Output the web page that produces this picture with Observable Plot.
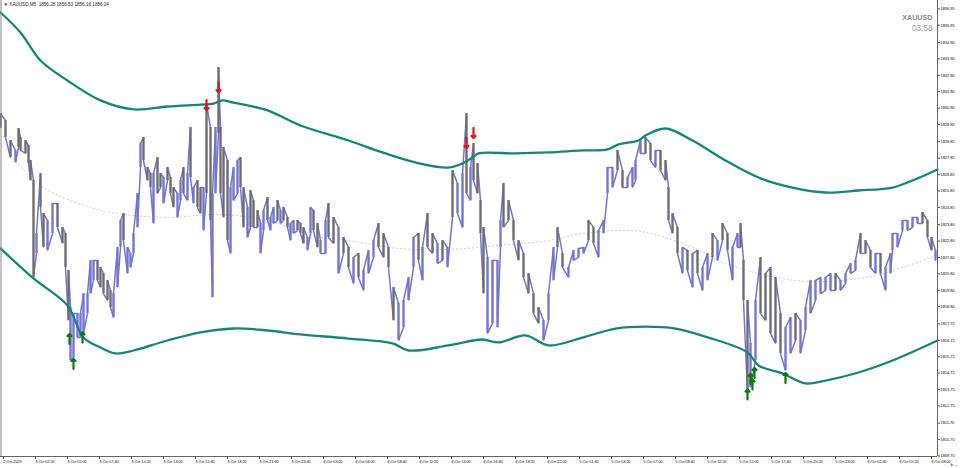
<!DOCTYPE html>
<html><head><meta charset="utf-8">
<script src="https://cdn.jsdelivr.net/npm/d3@7"></script>
<script src="https://cdn.jsdelivr.net/npm/@observablehq/plot@0.6"></script>
<style>
html,body{margin:0;padding:0;background:#fff;}
#chart{width:960px;height:468px;overflow:hidden;}
</style></head>
<body><div id="chart"></div>
<script>
// ---- header texts ----
const headerText = "\u25BC XAUUSD,M5  1856.28 1856.53 1856.16 1856.24";
const symbolText = "XAUUSD";
const timerText = "03:58";

// ---- axis domain & ticks ----
const xMin = -3, xMax = 934;
const yMin = 1809.67, yMax = 1837.46;
const yTicks = [1836.95,1835.95,1834.90,1833.90,1832.90,1831.90,1830.90,1829.90,1828.85,1827.85,1826.85,1825.85,1824.85,1823.80,1822.80,1821.80,1820.80,1819.80,1818.80,1817.75,1816.75,1815.75,1814.75,1813.75,1812.75,1811.70,1810.70,1809.70];
const xTickBars = [0,32,64,96,128,160,192,224,256,288,320,352,384,416,448,480,512,544,576,608,640,672,704,736,768,800,832,864,896,928];
const xTickLabels = ["2 Oct 2023","3 Oct 02:20","3 Oct 05:00","3 Oct 07:40","3 Oct 10:20","3 Oct 13:00","3 Oct 15:40","3 Oct 18:20","3 Oct 21:00","3 Oct 23:40","4 Oct 03:20","4 Oct 06:00","4 Oct 08:40","4 Oct 11:20","4 Oct 14:00","4 Oct 16:40","4 Oct 19:20","4 Oct 22:00","5 Oct 01:40","5 Oct 04:20","5 Oct 07:00","5 Oct 09:40","5 Oct 12:20","5 Oct 15:00","5 Oct 17:40","5 Oct 20:20","5 Oct 23:00","6 Oct 02:40","6 Oct 05:20","6 Oct 08:00"];

// ---- price bars (bar index, high, low) ----
const barIndex = [
 -3,2,7,12,15,17,22,25,27,30,
 33,37,40,44,49,54,59,62,65,67,
 70,74,77,80,84,87,90,94,97,100,
 104,107,110,114,117,120,124,127,130,134,
 137,140,144,147,150,154,157,160,164,167,
 170,174,177,180,184,187,190,194,197,200,
 203,207,209,212,215,217,220,224,227,230,
 234,237,240,244,247,250,254,257,260,264,
 267,270,274,277,280,284,287,290,294,297,
 300,304,307,310,314,317,322,325,330,335,
 340,345,350,355,360,365,370,375,380,385,
 390,395,400,405,410,415,419,424,429,434,
 439,444,449,454,459,463,467,470,474,477,
 480,484,489,494,497,500,505,510,515,520,
 525,530,535,540,545,550,554,559,565,570,
 575,580,585,590,595,600,604,609,614,619,
 624,629,632,637,642,647,652,657,662,665,
 669,674,679,684,689,694,699,704,709,714,
 719,724,729,734,737,740,744,747,752,757,
 762,767,772,777,782,787,792,797,802,807,
 812,817,822,827,832,837,842,847,852,857,
 862,867,872,877,882,887,889,894,899,904,
 909,914,919,924,928,932];
const barHigh = [
 1830.57,1830.15,1828.93,1828.32,1829.66,1829.11,1828.93,1828.62,1827.71,1826.49,
 1823.26,1826.92,1824.48,1824.05,1825.09,1825.09,1823.63,1823.26,1821.01,1818.75,
 1818.39,1818.39,1818.39,1819.60,1819.60,1821.62,1821.62,1821.62,1821.19,1820.82,
 1820.40,1819.79,1819.60,1822.41,1824.05,1824.48,1822.41,1822.04,1823.26,1825.70,
 1828.75,1829.11,1827.28,1826.92,1826.92,1827.89,1826.92,1826.67,1827.28,1826.67,
 1826.06,1825.70,1826.49,1827.28,1826.92,1829.72,1826.06,1826.49,1826.06,1826.06,
 1831.18,1829.72,1825.70,1829.72,1833.38,1829.72,1828.50,1827.71,1826.06,1827.28,
 1827.71,1827.89,1826.06,1824.85,1825.88,1825.27,1824.66,1823.87,1824.66,1825.46,
 1824.24,1824.85,1825.27,1824.66,1824.85,1824.24,1823.87,1824.05,1824.05,1823.87,
 1823.63,1823.02,1824.85,1824.66,1823.87,1822.83,1824.05,1825.09,1824.24,1823.63,
 1823.02,1822.41,1821.80,1822.04,1821.01,1822.23,1822.83,1823.87,1823.26,1822.41,
 1819.97,1819.00,1819.18,1820.58,1823.02,1823.26,1822.41,1824.48,1823.26,1822.65,
 1822.83,1822.41,1827.10,1826.31,1826.92,1830.57,1827.28,1828.75,1827.53,1825.27,
 1823.63,1821.80,1821.62,1821.62,1824.05,1826.31,1825.27,1824.05,1822.83,1822.04,
 1820.82,1819.60,1818.75,1817.96,1819.60,1822.41,1823.63,1822.04,1821.19,1822.23,
 1822.35,1822.41,1824.05,1823.63,1823.44,1824.05,1827.28,1827.28,1828.32,1827.10,
 1826.67,1827.28,1827.71,1828.93,1829.11,1828.75,1828.32,1828.32,1827.71,1826.06,
 1824.48,1823.63,1822.41,1822.23,1822.04,1822.23,1821.19,1822.04,1823.26,1822.83,
 1823.87,1823.26,1822.41,1823.26,1823.87,1821.62,1819.18,1816.56,1819.18,1821.80,
 1820.82,1821.19,1820.58,1818.39,1817.53,1818.14,1818.39,1817.96,1818.75,1820.40,
 1820.40,1820.58,1820.58,1820.82,1820.82,1820.40,1820.82,1821.43,1821.62,1823.26,
 1822.83,1822.23,1822.04,1822.04,1821.19,1822.04,1823.26,1823.26,1824.05,1824.05,
 1824.24,1824.24,1824.54,1824.05,1823.02,1822.23];
const barLow = [
 1829.72,1829.11,1827.89,1827.59,1828.50,1828.32,1828.14,1827.53,1826.49,1820.58,
 1822.04,1824.85,1822.41,1822.23,1823.26,1823.63,1822.65,1821.19,1817.96,1815.52,
 1815.70,1816.92,1816.92,1817.17,1818.39,1819.60,1820.40,1820.40,1819.97,1819.60,
 1819.18,1818.75,1818.14,1819.97,1822.41,1822.83,1820.82,1821.19,1822.04,1823.63,
 1827.28,1827.71,1826.49,1826.06,1823.87,1825.70,1826.06,1825.09,1826.49,1825.70,
 1824.85,1824.24,1825.27,1825.70,1825.27,1826.67,1825.09,1824.85,1824.48,1823.44,
 1825.70,1824.05,1819.36,1825.70,1829.36,1825.70,1824.24,1822.83,1822.04,1825.27,
 1825.70,1826.06,1823.63,1823.02,1823.63,1823.63,1823.63,1822.04,1823.44,1824.05,
 1823.44,1823.87,1824.05,1823.87,1824.05,1823.63,1822.83,1823.26,1823.44,1823.26,
 1822.65,1822.23,1823.26,1823.44,1822.41,1822.04,1822.04,1823.02,1822.65,1820.82,
 1822.04,1821.19,1820.21,1820.58,1819.79,1820.82,1821.80,1822.41,1821.80,1821.19,
 1817.96,1816.74,1817.53,1819.18,1821.19,1821.62,1820.40,1822.41,1822.04,1821.43,
 1821.62,1821.19,1824.24,1824.48,1823.63,1825.70,1825.27,1826.49,1825.70,1823.26,
 1819.60,1817.17,1817.78,1817.53,1822.41,1823.63,1824.05,1822.83,1821.62,1820.58,
 1819.60,1818.39,1817.78,1816.74,1817.96,1820.40,1822.41,1821.19,1820.58,1821.62,
 1821.80,1822.04,1822.83,1822.65,1821.80,1823.26,1825.70,1826.06,1827.10,1826.06,
 1826.06,1826.06,1826.49,1828.14,1828.14,1827.71,1827.28,1827.10,1826.49,1824.05,
 1823.26,1822.04,1820.82,1821.01,1819.97,1820.82,1819.79,1820.40,1821.80,1821.62,
 1822.83,1822.23,1820.40,1822.41,1822.41,1819.18,1813.51,1813.88,1815.52,1818.39,
 1817.96,1817.17,1816.56,1815.95,1814.91,1815.95,1816.74,1815.95,1817.35,1818.39,
 1819.18,1819.60,1819.79,1819.79,1819.79,1819.79,1820.21,1820.82,1821.01,1822.04,
 1822.04,1821.19,1820.82,1820.82,1819.79,1820.82,1822.23,1822.41,1823.44,1823.44,
 1823.63,1823.87,1823.87,1823.02,1822.23,1821.62];

// ---- envelope bands ----
const upperBar = [-3,17,37,64,97,130,164,197,210,219,230,264,297,345,379,412,445,459,469,475,512,545,579,604,615,635,642,662,689,722,755,789,822,855,889,909,934];
const upperVal = [1836.73,1835.51,1833.80,1832.58,1831.37,1830.82,1831.00,1831.12,1831.18,1831.37,1831.24,1830.76,1829.84,1828.93,1828.20,1827.59,1827.28,1827.53,1827.89,1828.14,1828.14,1828.20,1828.32,1828.38,1828.69,1828.93,1829.23,1829.66,1828.93,1827.71,1826.67,1826.06,1825.76,1825.88,1826.06,1826.49,1827.16];
const lowerBar = [-3,30,64,80,97,112,130,164,197,230,264,297,345,389,405,445,479,495,522,545,579,612,642,672,705,744,755,779,802,822,855,889,934];
const lowerVal = [1822.35,1820.52,1818.87,1816.92,1816.31,1815.95,1816.13,1816.74,1817.23,1817.47,1817.35,1817.11,1816.86,1816.56,1816.13,1816.44,1816.80,1816.62,1817.05,1816.44,1816.92,1817.47,1817.59,1817.47,1816.92,1816.01,1815.22,1814.73,1814.12,1814.30,1814.79,1815.52,1816.74];
const midBar = [-3,37,80,114,164,214,264,312,345,395,445,495,545,579,629,655,689,722,772,805,839,872,905,934];
const midVal = [1828.75,1826.19,1824.97,1824.48,1824.24,1824.42,1824.05,1823.08,1822.83,1822.35,1822.29,1822.53,1822.83,1823.26,1823.44,1823.14,1822.41,1821.43,1820.58,1820.34,1820.40,1820.70,1821.31,1821.92];

// ---- signal arrows ----
const sellBar = [203,215,463,470];
const sellVal = [1831.09,1832.18,1828.78,1829.39];
const buyBar = [66,79,70,751,747,749,744,782];
const buyVal = [1816.83,1816.92,1815.31,1814.76,1814.40,1814.06,1813.45,1814.45];

// ---- build tables ----
const bars = barIndex.map((b, i) => ({b, hi: barHigh[i], lo: barLow[i]}));
bars.forEach((d, i) => {
  const m = (d.hi + d.lo) / 2;
  const n = i < bars.length - 1 ? (bars[i + 1].hi + bars[i + 1].lo) / 2 : m;
  d.up = n >= m - 0.15;
});
const zig = [];
bars.forEach((d, i) => {
  if (i % 2 === 0) { zig.push({b: d.b, v: d.lo}); zig.push({b: d.b, v: d.hi}); }
  else { zig.push({b: d.b, v: d.hi}); zig.push({b: d.b, v: d.lo}); }
});
const upper = upperBar.map((b, i) => ({b, v: upperVal[i]}));
const lower = lowerBar.map((b, i) => ({b, v: lowerVal[i]}));
const mid = midBar.map((b, i) => ({b, v: midVal[i]}));
const sells = sellBar.map((b, i) => ({b, v: sellVal[i]}));
const buys = buyBar.map((b, i) => ({b, v: buyVal[i]}));
const labelMap = new Map(xTickBars.map((b, i) => [b, xTickLabels[i]]));

const upColor = "#7474d8", downColor = "#6c6c6c", bandColor = "#14877c";

const chart = Plot.plot({
  width: 960, height: 468,
  marginLeft: 0, marginRight: 23, marginTop: 0, marginBottom: 12,
  style: {fontFamily: "'Liberation Sans', Arial, sans-serif", background: "#fff", color: "#000"},
  x: {domain: [xMin, xMax], axis: null},
  y: {domain: [yMin, yMax], axis: null},
  marks: [
    Plot.line(mid, {x: "b", y: "v", curve: "catmull-rom", stroke: "#c9c9c9", strokeWidth: 1, strokeDasharray: "1.2,2.8"}),
    Plot.line(zig, {x: "b", y: "v", stroke: upColor, strokeWidth: 1.5, strokeLinejoin: "miter"}),
    Plot.ruleX(bars.filter(d => d.up), {x: "b", y1: "lo", y2: "hi", stroke: upColor, strokeWidth: 2.2}),
    Plot.ruleX(bars.filter(d => !d.up), {x: "b", y1: "lo", y2: "hi", stroke: downColor, strokeWidth: 2.2}),
    Plot.line(upper, {x: "b", y: "v", curve: "catmull-rom", stroke: bandColor, strokeWidth: 2.3}),
    Plot.line(lower, {x: "b", y: "v", curve: "catmull-rom", stroke: bandColor, strokeWidth: 2.3}),
    Plot.vector(sells, {x: "b", y: "v", length: 10, rotate: 180, anchor: "middle", shape: "arrow", stroke: "#ee1111", strokeWidth: 2.2}),
    Plot.vector(buys, {x: "b", y: "v", length: 10, rotate: 0, anchor: "middle", shape: "arrow", stroke: "#0a7a0a", strokeWidth: 2.2}),
    Plot.ruleX([xMin + 0.5], {stroke: "#888", strokeWidth: 1}),
    Plot.ruleX([xMax], {stroke: "#666", strokeWidth: 1}),
    Plot.ruleY([yMin], {stroke: "#666", strokeWidth: 1}),
    Plot.axisY(yTicks, {anchor: "right", tickSize: 2, tickPadding: 1, fontSize: 3.9, tickFormat: d => d.toFixed(2), stroke: "#555"}),
    Plot.axisX(xTickBars, {anchor: "bottom", tickSize: 3, tickPadding: 1, fontSize: 3.7, textAnchor: "start", tickFormat: d => labelMap.get(d), stroke: "#555"}),
    Plot.text([headerText], {text: d => d, frameAnchor: "top-left", dx: 3, dy: 2.5, fontSize: 4.6, textAnchor: "start", lineAnchor: "top", fill: "#222"}),
    Plot.text([symbolText], {text: d => d, frameAnchor: "top-right", dx: -5, dy: 14.5, fontSize: 7.2, fontWeight: "bold", textAnchor: "end", lineAnchor: "top", fill: "#8a8a8a"}),
    Plot.text([timerText], {text: d => d, frameAnchor: "top-right", dx: -5, dy: 25, fontSize: 8.2, textAnchor: "end", lineAnchor: "top", fill: "#9c9c9c"})
  ]
});
document.getElementById("chart").appendChild(chart);
</script>
</body></html>
